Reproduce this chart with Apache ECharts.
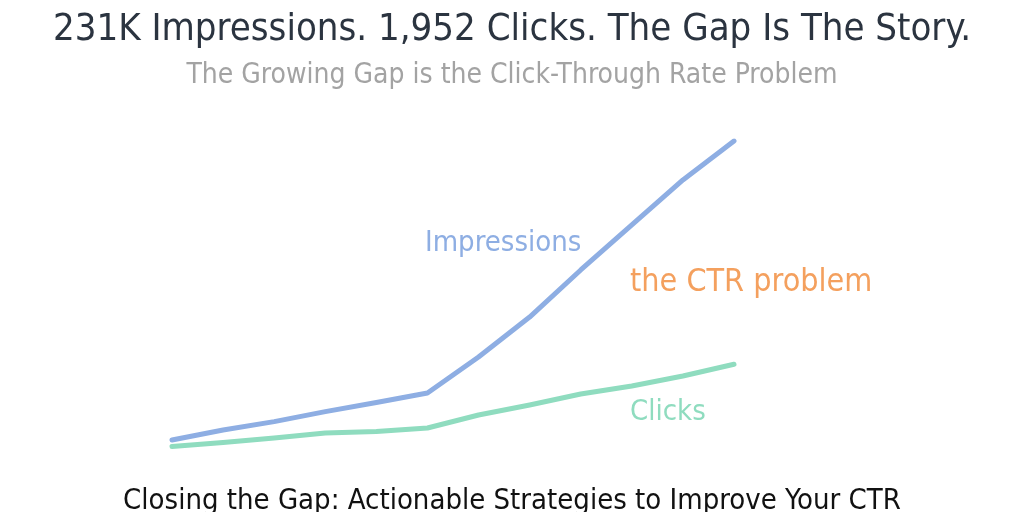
<!DOCTYPE html>
<html>
<head>
<meta charset="utf-8">
<script src="https://cdn.jsdelivr.net/npm/echarts@6/dist/echarts.min.js"></script>
<style>
  html, body { margin: 0; padding: 0; background: #fff; }
  #chart { width: 1024px; height: 512px; }
</style>
</head>
<body>
<div id="chart"></div>
<script>
// monthly cumulative numbers
const months = ['M1', 'M2', 'M3', 'M4', 'M5', 'M6', 'M7', 'M8', 'M9', 'M10', 'M11', 'M12']
const impressionsK = [14.5, 21.7, 27.8, 35, 41.6, 48.5, 74.6, 103.5, 137.6, 170.2, 202.8, 231]
const clicks = [273, 355, 448, 550, 579, 652, 917, 1121, 1345, 1508, 1712, 1952]

const titleText = '231K Impressions. 1,952 Clicks. The Gap Is The Story.'
const subtitleText = 'The Growing Gap is the Click-Through Rate Problem'
const footerText = 'Closing the Gap: Actionable Strategies to Improve Your CTR'

const FONT = "'Liberation Sans Narrow', 'DejaVu Sans Condensed', 'Noto Sans', sans-serif"
const BLUE = '#8eaee3'
const GREEN = '#8fdcbf'
const ORANGE = '#f4a05e'

const chart = echarts.init(document.getElementById('chart'))

const option = {
  backgroundColor: '#ffffff',
  animation: false,
  title: [
    {
      text: titleText,
      left: 'center',
      top: 6,
      textStyle: { fontFamily: FONT, fontSize: 38, fontWeight: 'normal', color: '#2b3440' }
    },
    {
      text: subtitleText,
      left: 'center',
      top: 57,
      textStyle: { fontFamily: FONT, fontSize: 28, fontWeight: 'normal', color: '#a3a3a3' }
    },
    {
      text: footerText,
      left: 'center',
      top: 482,
      textStyle: { fontFamily: FONT, fontSize: 29, fontWeight: 'normal', color: '#111' }
    }
  ],
  grid: {
    left: 172,
    right: 290,
    top: 141,
    bottom: 52
  },
  xAxis: {
    type: 'category',
    data: months,
    boundaryGap: false,
    show: false
  },
  yAxis: [
    { type: 'value', min: 0, max: 231, show: false },
    { type: 'value', min: 0, max: 6500, show: false }
  ],
  graphic: [
    {
      type: 'text', left: 425, top: 229,
      style: { text: 'Impressions', fill: BLUE, font: '29px ' + FONT }
    },
    {
      type: 'text', left: 630, top: 267,
      style: { text: 'the CTR problem', fill: ORANGE, font: '32px ' + FONT }
    },
    {
      type: 'text', left: 630, top: 398,
      style: { text: 'Clicks', fill: GREEN, font: '29px ' + FONT }
    }
  ],
  series: [
    {
      name: 'Impressions',
      type: 'line',
      data: impressionsK,
      yAxisIndex: 0,
      symbol: 'none',
      lineStyle: { color: BLUE, width: 5, cap: 'round', join: 'round' }
    },
    {
      name: 'Clicks',
      type: 'line',
      data: clicks,
      yAxisIndex: 1,
      symbol: 'none',
      lineStyle: { color: GREEN, width: 5, cap: 'round', join: 'round' }
    }
  ]
}

chart.setOption(option)
</script>
</body>
</html>
